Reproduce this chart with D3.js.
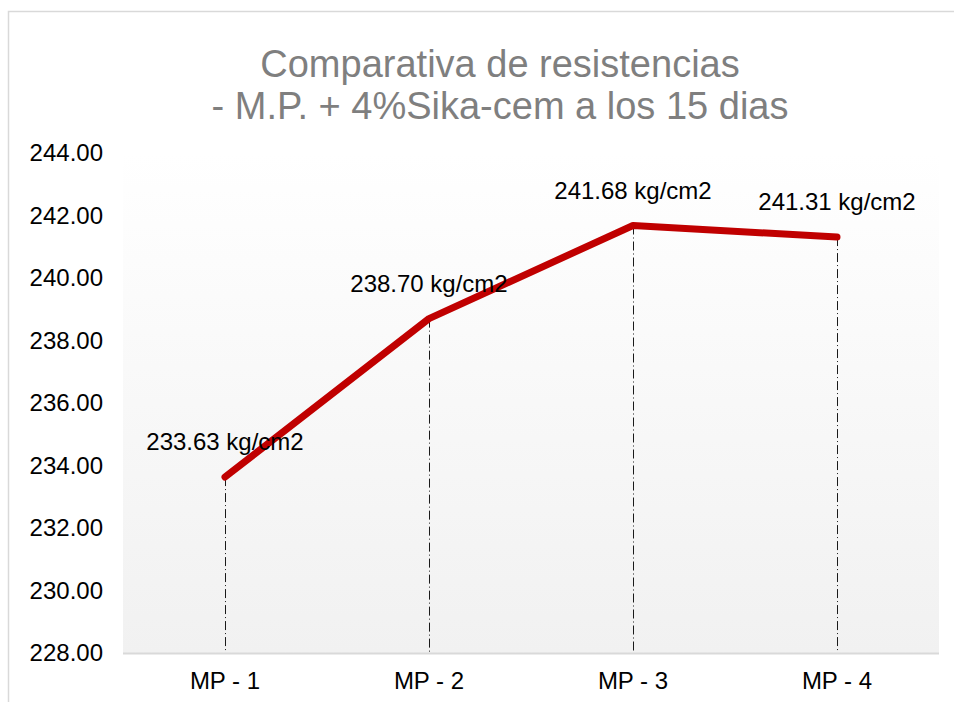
<!DOCTYPE html>
<html>
<head>
<meta charset="utf-8">
<script src="https://cdn.jsdelivr.net/npm/d3@7"></script>
<style>
  html, body { margin: 0; padding: 0; background: #fff; }
  svg { display: block; font-family: "Liberation Sans", Arial, sans-serif; }
</style>
</head>
<body>
<script>
const titleLines = ["Comparativa de resistencias", "- M.P. + 4%Sika-cem a los 15 dias"];
const categories = ["MP - 1", "MP - 2", "MP - 3", "MP - 4"];
const values = [233.63, 238.70, 241.68, 241.31];
const unit = " kg/cm2";
const yTicks = [228, 230, 232, 234, 236, 238, 240, 242, 244];

const W = 954, H = 702;
const plot = { left: 123, right: 939, top: 153, bottom: 653 };

const svg = d3.select("body").append("svg").attr("width", W).attr("height", H);

const defs = svg.append("defs");
const grad = defs.append("linearGradient").attr("id", "pg")
  .attr("x1", 0).attr("y1", 0).attr("x2", 0).attr("y2", 1);
grad.append("stop").attr("offset", "0%").attr("stop-color", "#ffffff");
grad.append("stop").attr("offset", "100%").attr("stop-color", "#f1f1f1");

// outer chart border
svg.append("rect").attr("x", 8.5).attr("y", 11.5).attr("width", 1100).attr("height", 800)
  .attr("fill", "#fff").attr("stroke", "#d9d9d9").attr("stroke-width", 1.5);

const x = d3.scaleBand().domain(categories).range([plot.left, plot.right]).padding(0);
const y = d3.scaleLinear().domain([228, 244]).range([plot.bottom, plot.top]);

// plot area
svg.append("rect").attr("x", plot.left).attr("y", plot.top)
  .attr("width", plot.right - plot.left).attr("height", plot.bottom - plot.top)
  .attr("fill", "url(#pg)");

// title
const title = svg.append("text").attr("text-anchor", "middle").attr("fill", "#7f7f7f")
  .style("font-size", "38px");
titleLines.forEach((t, i) => {
  title.append("tspan").attr("x", 500).attr("y", 77 + i * 42).text(t);
});

// y axis
const yAxis = d3.axisLeft(y).tickValues(yTicks).tickFormat(d3.format(".2f")).tickSize(0).tickPadding(0);
const yg = svg.append("g").attr("transform", `translate(103,0)`).call(yAxis);
yg.select(".domain").remove();
yg.selectAll("text").attr("fill", "#000").style("font-size", "24px")
  .attr("font-family", "Liberation Sans, Arial, sans-serif");

// x axis
const xAxis = d3.axisBottom(x).tickSize(0).tickPadding(0);
const xg = svg.append("g").attr("transform", `translate(0,${plot.bottom})`).call(xAxis);
xg.select(".domain").remove();
xg.selectAll("text").attr("fill", "#000").style("font-size", "24px")
  .attr("dy", "0").attr("y", 36)
  .attr("font-family", "Liberation Sans, Arial, sans-serif");

// drop lines
const cx = d => x(d) + x.bandwidth() / 2;
svg.append("g").selectAll("line").data(categories).join("line")
  .attr("x1", d => Math.round(cx(d)) + 0.5).attr("x2", d => Math.round(cx(d)) + 0.5)
  .attr("y1", (d, i) => y(values[i])).attr("y2", plot.bottom)
  .attr("stroke", "#1a1a1a").attr("stroke-width", 1)
  .attr("stroke-dasharray", "9,3,1,3");

// axis line
svg.append("line").attr("x1", plot.left).attr("x2", plot.right)
  .attr("y1", plot.bottom + 0.5).attr("y2", plot.bottom + 0.5)
  .attr("stroke", "#d9d9d9").attr("stroke-width", 2);

// series line
const line = d3.line().x((d, i) => cx(categories[i])).y(d => y(d));
svg.append("path").datum(values).attr("d", line)
  .attr("fill", "none").attr("stroke", "#c00000").attr("stroke-width", 7)
  .attr("stroke-linecap", "round").attr("stroke-linejoin", "round");

// data labels
svg.append("g").selectAll("text").data(values).join("text")
  .attr("x", (d, i) => cx(categories[i]))
  .attr("y", d => y(d) - 27)
  .attr("text-anchor", "middle").attr("fill", "#000").style("font-size", "24px")
  .text(d => d3.format(".2f")(d) + unit);
</script>
</body>
</html>
